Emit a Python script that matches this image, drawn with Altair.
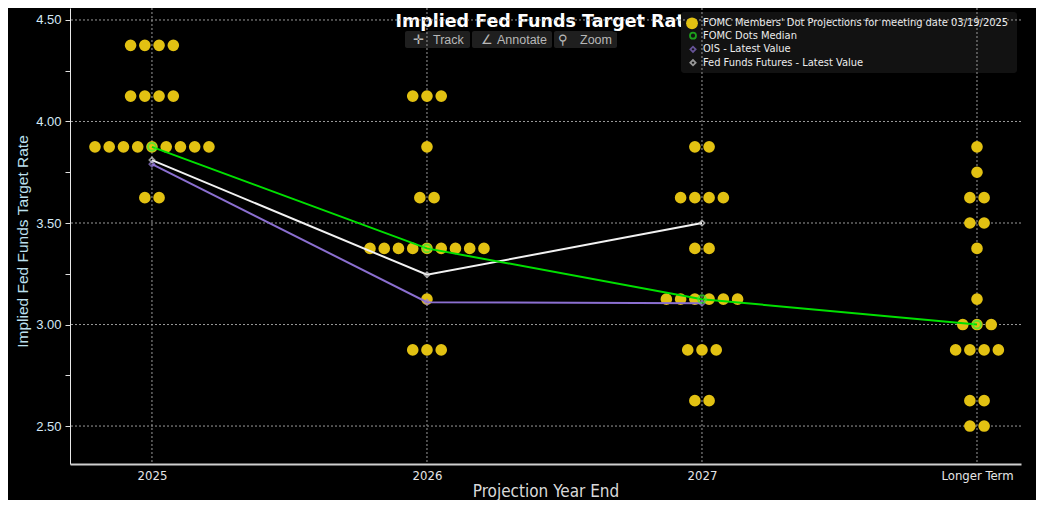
import json
import altair as alt
import pandas as pd

# ---------------- data ----------------
categories = ["2025", "2026", "2027", "Longer Term"]

rates_2025 = [4.375, 4.125, 3.875, 3.625]
counts_2025 = [4, 4, 9, 2]
rates_2026 = [4.125, 3.875, 3.625, 3.375, 3.125, 2.875]
counts_2026 = [3, 1, 2, 9, 1, 3]
rates_2027 = [3.875, 3.625, 3.375, 3.125, 2.875, 2.625]
counts_2027 = [2, 4, 2, 6, 3, 2]
rates_lt = [3.875, 3.75, 3.625, 3.5, 3.375, 3.125, 3.0, 2.875, 2.625, 2.5]
counts_lt = [1, 1, 2, 2, 1, 1, 3, 4, 2, 2]

median_values = [3.875, 3.375, 3.125, 3.0]
ois_values = [3.79, 3.11, 3.105]
fff_values = [3.81, 3.245, 3.50]

legend_labels = [
    "FOMC Members' Dot Projections for meeting date 03/19/2025",
    "FOMC Dots Median",
    "OIS - Latest Value",
    "Fed Funds Futures - Latest Value",
]
chart_title = "Implied Fed Funds Target Rate"
toolbar_labels = ["\u271b", "Track", "\u2220", "Annotate", "\u26b2", "Zoom"]

y_major = [2.5, 3.0, 3.5, 4.0, 4.5]
y_ticks = [2.5, 2.75, 3.0, 3.25, 3.5, 3.75, 4.0, 4.25, 4.5]

# ---------------- build tables ----------------
DOT_STEP = 0.0518  # horizontal spacing between stacked dots (category units)
rows = []
for i, (rates, counts) in enumerate([(rates_2025, counts_2025), (rates_2026, counts_2026),
                                     (rates_2027, counts_2027), (rates_lt, counts_lt)]):
    for r, n in zip(rates, counts):
        for k in range(n):
            rows.append({"x": i + (k - (n - 1) / 2) * DOT_STEP, "y": r})
dots = pd.DataFrame(rows)

median_df = pd.DataFrame({"x": list(range(len(median_values))), "y": median_values})
ois_df = pd.DataFrame({"x": list(range(len(ois_values))), "y": ois_values})
fff_df = pd.DataFrame({"x": list(range(len(fff_values))), "y": fff_values})
hgrid = pd.DataFrame({"y": y_major})
vgrid = pd.DataFrame({"x": list(range(len(categories)))})
one = pd.DataFrame({"a": [0]})

COND = "DejaVu Sans Condensed, Liberation Sans Narrow, Liberation Sans, sans-serif"

W, H = 951, 456
xscale = alt.Scale(domain=[-0.298, 3.16], nice=False, zero=False)
yscale = alt.Scale(domain=[2.313, 4.559], nice=False, zero=False)

xaxis = alt.Axis(
    values=list(range(len(categories))),
    labelExpr=json.dumps(categories) + "[datum.value]",
    grid=False, ticks=False, domainColor="#cfcfcf", domainWidth=2,
    labelColor="#e6e6e6", labelFont=COND, labelFontSize=13, labelPadding=5,
    title="Projection Year End", titleColor="#d9d9d9", titleFont=COND,
    titleFontSize=17, titleFontWeight="normal", titlePadding=1,
)
yaxis = alt.Axis(
    values=y_ticks,
    labelExpr="(round(datum.value*4) % 2 == 0) ? format(datum.value, '.2f') : ''",
    grid=False, tickSize=5, tickColor="#e0e0e0", domainColor="#e8e8e8",
    labelColor="#d5e9f6", labelFont="Liberation Sans", labelFontSize=13, labelPadding=4,
    title="Implied Fed Funds Target Rate", titleColor="#bde0ef", titleFont="Liberation Sans",
    titleFontSize=15.5, titleFontWeight="normal", titleX=-48, titleY=233,
    titleBaseline="middle", titleAlign="center",
)


def X(field="x"):
    return alt.X(field + ":Q", scale=xscale, axis=xaxis)


def Y(field="y"):
    return alt.Y(field + ":Q", scale=yscale, axis=yaxis)


layers = []

# toolbar boxes (behind title)
for x1, x2 in [(335, 400), (402, 482), (484, 547)]:
    layers.append(alt.Chart(one).mark_rect(color="#1f1f1f", cornerRadius=2).encode(
        x=alt.value(x1), x2=alt.value(x2), y=alt.value(23), y2=alt.value(40)))

# title (outline + fill)
layers.append(alt.Chart(one).mark_text(
    text=chart_title, font="DejaVu Sans", fontSize=17.5, fontWeight="bold",
    color="black", stroke="black", strokeWidth=3, align="center", baseline="alphabetic"
).encode(x=alt.value(476), y=alt.value(19)))
layers.append(alt.Chart(one).mark_text(
    text=chart_title, font="DejaVu Sans", fontSize=17.5, fontWeight="bold",
    color="white", align="center", baseline="alphabetic"
).encode(x=alt.value(476), y=alt.value(19)))

# legend box
layers.append(alt.Chart(one).mark_rect(color="#121212", cornerRadius=3).encode(
    x=alt.value(611), x2=alt.value(947), y=alt.value(4), y2=alt.value(65)))

# grid
layers.append(alt.Chart(hgrid).mark_rule(color="#9a9a9a", strokeDash=[2, 2], strokeWidth=1).encode(y=Y()))
layers.append(alt.Chart(vgrid).mark_rule(color="#9a9a9a", strokeDash=[2, 2], strokeWidth=1).encode(x=X()))

# toolbar text
tb_pos = [343, 363, 411, 427, 488, 510]
for lab, px in zip(toolbar_labels, tb_pos):
    layers.append(alt.Chart(one).mark_text(
        text=lab, font="Liberation Sans", fontSize=12.5, color="#b8b8b8",
        align="left", baseline="middle").encode(x=alt.value(px), y=alt.value(32)))

# dots
layers.append(alt.Chart(dots).mark_circle(size=135, color="#e2c112", opacity=1).encode(x=X(), y=Y()))

# lines
layers.append(alt.Chart(ois_df).mark_line(color="#8b6fd0", strokeWidth=2).encode(x=X(), y=Y()))
layers.append(alt.Chart(fff_df).mark_line(color="#f2f2f2", strokeWidth=2).encode(x=X(), y=Y()))
layers.append(alt.Chart(median_df).mark_line(color="#00e000", strokeWidth=2).encode(x=X(), y=Y()))

# markers
layers.append(alt.Chart(ois_df).mark_point(shape="diamond", size=30, filled=False, color="#9a7fe0",
                                           strokeWidth=1.5).encode(x=X(), y=Y()))
layers.append(alt.Chart(fff_df).mark_point(shape="diamond", size=30, filled=False, color="#d8d8d8",
                                           strokeWidth=1.5).encode(x=X(), y=Y()))
layers.append(alt.Chart(median_df).mark_point(shape="circle", size=60, filled=False, color="#33ee33",
                                              strokeWidth=2).encode(x=X(), y=Y()))

# legend contents
leg_y = [15.3, 27.7, 41.3, 54.7]
layers.append(alt.Chart(one).mark_circle(size=140, color="#e2c112", opacity=1).encode(
    x=alt.value(622), y=alt.value(leg_y[0])))
layers.append(alt.Chart(one).mark_point(shape="circle", size=36, filled=False, color="#22dd22",
                                        strokeWidth=1.8).encode(x=alt.value(623), y=alt.value(leg_y[1])))
layers.append(alt.Chart(one).mark_point(shape="diamond", size=28, filled=False, color="#8a6fcf",
                                        strokeWidth=1.8).encode(x=alt.value(623), y=alt.value(leg_y[2])))
layers.append(alt.Chart(one).mark_point(shape="diamond", size=28, filled=False, color="#d0d0d0",
                                        strokeWidth=1.8).encode(x=alt.value(623), y=alt.value(leg_y[3])))
for lab, ly in zip(legend_labels, leg_y):
    layers.append(alt.Chart(one).mark_text(
        text=lab, font=COND, fontSize=11, color="#ececec", align="left", baseline="middle"
    ).encode(x=alt.value(633), y=alt.value(ly)))

chart = alt.layer(*layers).properties(
    width=W, height=H,
    autosize=alt.AutoSizeParams(type="none"),
    padding={"left": 62, "right": 15, "top": 0, "bottom": 36},
    background="black",
).configure_view(stroke=None)

chart.save("out.html", embed_options={"renderer": "svg", "actions": False})
